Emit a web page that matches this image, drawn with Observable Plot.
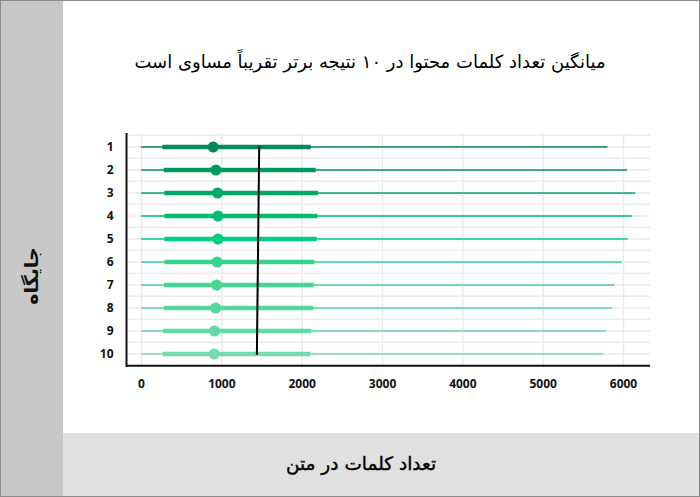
<!DOCTYPE html>
<html>
<head>
<meta charset="utf-8">
<script src="https://cdn.jsdelivr.net/npm/d3@7"></script>
<script src="https://cdn.jsdelivr.net/npm/@observablehq/plot@0.6"></script>
<style>
  html, body { margin: 0; padding: 0; background: #fff; }
  #frame { position: relative; width: 698px; height: 495px; border: 1px solid #8a8a8a; background: #fff; overflow: hidden; }
  #side { position: absolute; left: 0; top: 0; width: 62px; height: 495px; background: #c8c8c8; }
  #sideLabel { position: absolute; left: 30px; top: 275px; transform: translate(-50%, -50%) rotate(-90deg); font-family: "DejaVu Sans", sans-serif; font-size: 19px; font-weight: bold; color: #111; white-space: nowrap; direction: rtl; }
  #bottom { position: absolute; left: 62px; top: 432px; width: 636px; height: 63px; background: #e0e0e0; }
  #xLabel { position: absolute; left: 360px; top: 462px; transform: translate(-50%, -50%); font-family: "DejaVu Sans", sans-serif; font-size: 18.5px; color: #000; -webkit-text-stroke: 0.4px #000; white-space: nowrap; direction: rtl; }
  #title { position: absolute; left: 369px; top: 60px; transform: translate(-50%, -50%); font-family: "DejaVu Sans", sans-serif; font-size: 18px; color: #000; white-space: nowrap; direction: rtl; }
  #chart { position: absolute; left: 61px; top: 118px; }
</style>
</head>
<body>
<div id="frame">
  <div id="side"></div>
  <div id="sideLabel">جایگاه</div>
  <div id="bottom"></div>
  <div id="xLabel">تعداد کلمات در متن</div>
  <div id="title">میانگین تعداد کلمات محتوا در ۱۰ نتیجه برتر تقریباً مساوی است</div>
  <div id="chart"></div>
</div>
<script>
// ---- data ----
const rows = [1, 2, 3, 4, 5, 6, 7, 8, 9, 10];
const mins = [0, 0, 0, 0, 0, 0, 0, 0, 0, 0];
const maxs = [5807, 6052, 6152, 6115, 6060, 5985, 5895, 5860, 5790, 5750];
const q1s = [265, 283, 290, 290, 290, 290, 286, 283, 274, 270];
const q3s = [2113, 2175, 2204, 2196, 2188, 2158, 2150, 2142, 2121, 2108];
const medians = [893, 926, 947, 951, 951, 942, 934, 922, 909, 905];
const colors = ["#018b56", "#009a5e", "#00ab67", "#00bd71", "#00cf80", "#38d38d", "#46d592", "#55d79a", "#64d9a3", "#74dcac"];
const trendRows = [1, 10];
const trendValues = [1465, 1436];
const xTicks = [0, 1000, 2000, 3000, 4000, 5000, 6000];
const xDomain = [-187, 6336];

const data = rows.map((r, i) => ({
  row: r, min: mins[i], max: maxs[i], q1: q1s[i], q3: q3s[i], med: medians[i], color: colors[i]
}));
const trend = trendRows.map((r, i) => ({row: r, x: trendValues[i]}));

const W = 636, H = 281, mt = 14, mb = 33, ml = 64, mr = 48;
const step = (H - mt - mb) / rows.length;

const chart = Plot.plot({
  width: W, height: H,
  marginTop: mt, marginBottom: mb, marginLeft: ml, marginRight: mr,
  style: {fontFamily: "'Open Sans', sans-serif", fontSize: "12px", fontWeight: "bold", color: "#111", background: "transparent"},
  x: {domain: xDomain, ticks: xTicks, tickFormat: d => String(d), tickSize: 0, tickPadding: 12, label: null},
  y: {type: "band", domain: rows, padding: 0, tickSize: 0, tickPadding: 13, label: null},
  marks: [
    Plot.ruleX(xTicks, {stroke: "#ebebeb", strokeWidth: 1.5}),
    Plot.ruleY(rows, {y: d => d, stroke: "#ebebeb", strokeWidth: 1.5}),
    Plot.ruleY(rows, {y: d => d, dy: -step / 2, stroke: "#ebebeb", strokeWidth: 1.5}),
    Plot.ruleY(data, {y: "row", x1: "min", x2: "max", stroke: "color", strokeWidth: 1.7}),
    Plot.ruleY(data, {y: "row", x1: "q1", x2: "q3", stroke: "color", strokeWidth: 4.5}),
    Plot.dot(data, {y: "row", x: "med", fill: "color", r: 5.5}),
    Plot.line(trend, {x: "x", y: "row", stroke: "#000", strokeWidth: 2}),
    Plot.ruleX([xDomain[0]], {stroke: "#111", strokeWidth: 2}),
    Plot.ruleY([rows[rows.length - 1]], {dy: step / 2, stroke: "#111", strokeWidth: 2})
  ]
});
document.getElementById("chart").appendChild(chart);
</script>
</body>
</html>
